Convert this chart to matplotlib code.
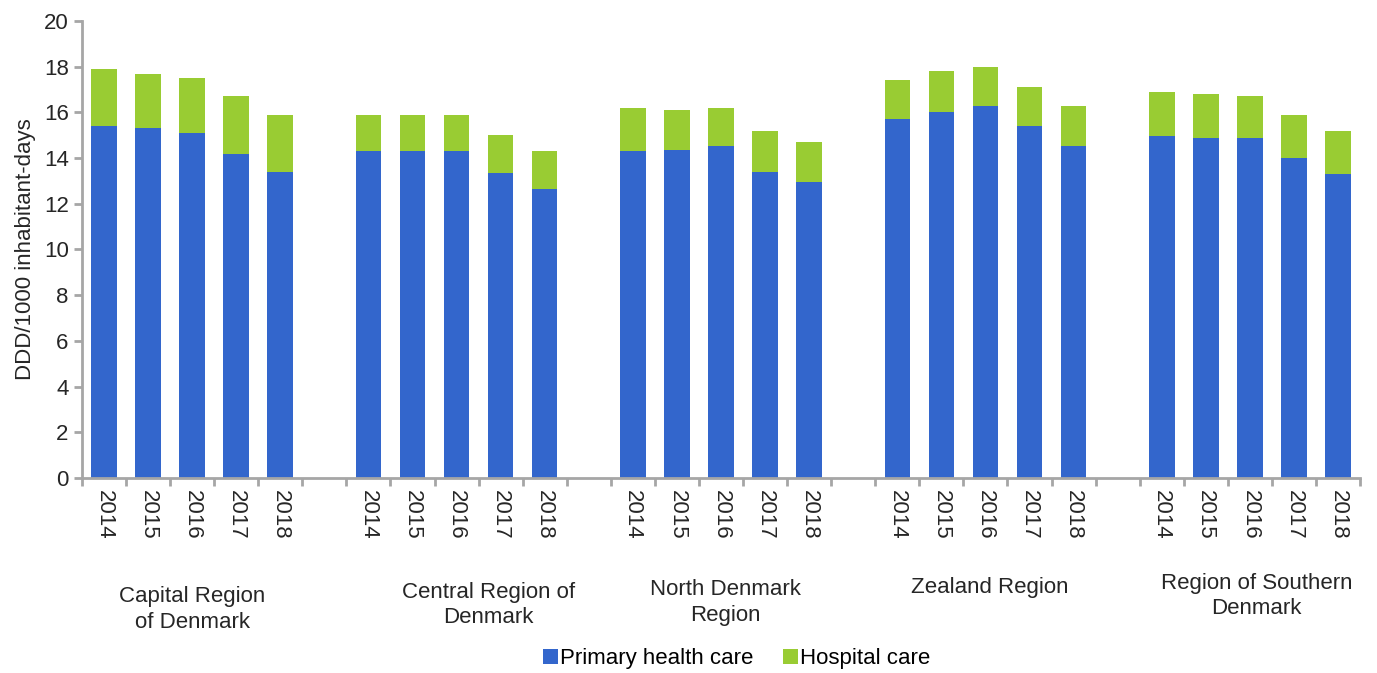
import numpy as np
import matplotlib.pyplot as plt

plt.rcParams['font.family'] = ['Liberation Sans', 'DejaVu Sans']

# Data
regions = ['Capital Region\nof Denmark', 'Central Region of\nDenmark', 'North Denmark\nRegion',
           'Zealand Region', 'Region of Southern\nDenmark']
years = ['2014', '2015', '2016', '2017', '2018']
total = [
    [17.9, 17.7, 17.5, 16.7, 15.9],
    [15.9, 15.9, 15.9, 15.0, 14.3],
    [16.2, 16.1, 16.2, 15.2, 14.7],
    [17.4, 17.8, 18.0, 17.1, 16.3],
    [16.9, 16.8, 16.7, 15.9, 15.2],
]
primary = [
    [15.4, 15.3, 15.1, 14.2, 13.4],
    [14.3, 14.3, 14.3, 13.35, 12.65],
    [14.3, 14.35, 14.55, 13.4, 12.95],
    [15.7, 16.0, 16.3, 15.4, 14.55],
    [14.95, 14.9, 14.9, 14.0, 13.3],
]
hospital = (np.array(total) - np.array(primary)).tolist()

blue = '#3366CC'
green = '#99CC33'
grey = '#A6A6A6'
fs = 16

fig = plt.figure(figsize=(13.77, 6.73), dpi=100)
ax = fig.add_axes([0.0595, 0.2898, 0.9282, 0.679])

n_years = len(years)
slot = n_years + 1
x_pos, prim_vals, hosp_vals, xlabels = [], [], [], []
for g in range(len(regions)):
    for i in range(n_years):
        x_pos.append(g * slot + i)
        prim_vals.append(primary[g][i])
        hosp_vals.append(hospital[g][i])
        xlabels.append(years[i])

ax.bar(x_pos, prim_vals, width=0.58, color=blue, label='Primary health care')
ax.bar(x_pos, hosp_vals, width=0.58, bottom=prim_vals, color=green, label='Hospital care')

n_slots = len(regions) * slot - 1
ax.set_xlim(-0.5, n_slots - 0.5)
ax.set_ylim(0, 20)
ax.set_yticks(np.arange(0, 21, 2))
ax.set_xticks(x_pos)
ax.set_xticklabels(xlabels, rotation=270, fontsize=fs, color='#262626')
ax.tick_params(axis='x', length=0, pad=9)
ax.tick_params(axis='y', length=6, color=grey, width=2, labelsize=fs, labelcolor='#262626')
# category boundary ticks
ax.set_xticks(np.arange(-0.5, n_slots, 1), minor=True)
ax.tick_params(axis='x', which='minor', length=6, color=grey, width=2)

for s in ['top', 'right']:
    ax.spines[s].set_visible(False)
for s in ['left', 'bottom']:
    ax.spines[s].set_color(grey)
    ax.spines[s].set_linewidth(2)

ax.set_ylabel('DDD/1000 inhabitant-days', fontsize=fs, color='#262626', labelpad=6)

# group labels
label_shift = [0, 0.72, 0.1, 0.1, 0.15]
label_y = [-0.237, -0.227, -0.222, -0.217, -0.207]
for g, name in enumerate(regions):
    cx = g * slot + (n_years - 1) / 2 + label_shift[g]
    ax.text(cx, label_y[g], name, transform=ax.get_xaxis_transform(), ha='center', va='top',
            fontsize=fs, color='#262626', linespacing=1.3)

fig.legend(loc='lower center', bbox_to_anchor=(0.535, -0.024), ncol=2, frameon=False,
           fontsize=fs, handlelength=0.7, handleheight=0.7, handletextpad=0.1,
           columnspacing=1.3)

fig.savefig('out.png', dpi=100)
